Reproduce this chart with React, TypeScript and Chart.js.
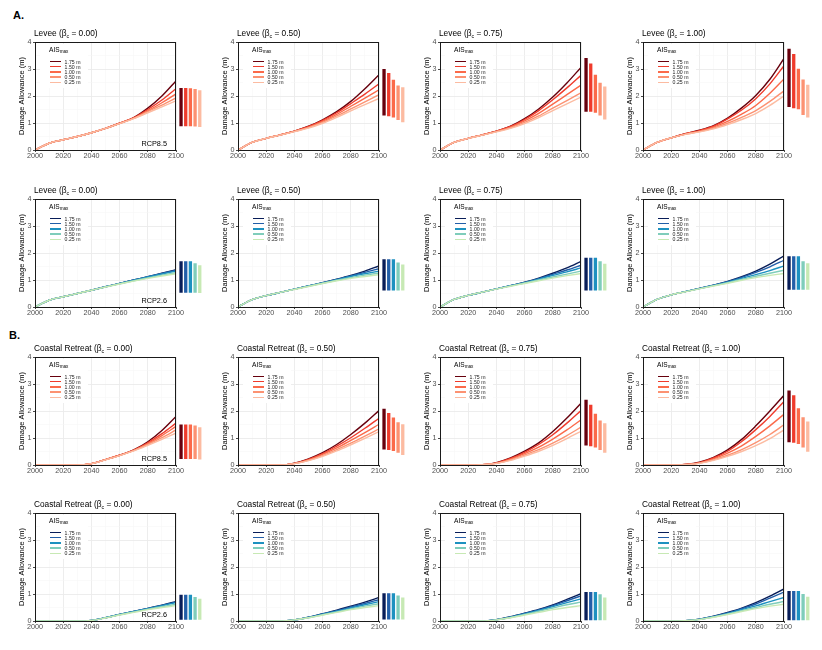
import { useEffect, useRef } from "react";
import { Chart, registerables } from "chart.js";

Chart.register(...registerables);
Chart.defaults.font.family = "'Liberation Sans', Arial, sans-serif";

const years = [2000, 2010, 2020, 2030, 2040, 2050, 2060, 2070, 2080, 2090, 2100];
const xTickLabels = [2000, 2020, 2040, 2060, 2080, 2100];
const yTickLabels = [0, 1, 2, 3, 4];
const aisLabels = ["1.75 m", "1.50 m", "1.00 m", "0.50 m", "0.25 m"];
const betaLabels = ["0.00", "0.50", "0.75", "1.00"];
const redColors = ["#67000d", "#ef3b2c", "#fb6a4a", "#fc9272", "#fcbba1"];
const blueColors = ["#081d58", "#225ea8", "#1d91c0", "#7fcdbb", "#c7e9b4"];

// Levee, RCP8.5 (one row per AIS max, 2000..2100 every 10 yr)
const leveeRcp85Beta000 = [
  [0, 0.25, 0.38, 0.5, 0.64, 0.8, 0.99, 1.2, 1.55, 2.0, 2.56],
  [0, 0.25, 0.38, 0.5, 0.64, 0.8, 0.99, 1.2, 1.5, 1.85, 2.27],
  [0, 0.25, 0.38, 0.5, 0.64, 0.8, 0.99, 1.18, 1.45, 1.75, 2.08],
  [0, 0.25, 0.38, 0.5, 0.64, 0.8, 0.98, 1.17, 1.42, 1.66, 1.93],
  [0, 0.25, 0.38, 0.5, 0.64, 0.8, 0.98, 1.16, 1.38, 1.6, 1.82],
];
const leveeRcp85Beta050 = [
  [0, 0.28, 0.43, 0.56, 0.7, 0.88, 1.12, 1.42, 1.8, 2.27, 2.79],
  [0, 0.28, 0.43, 0.56, 0.7, 0.87, 1.1, 1.38, 1.72, 2.07, 2.45],
  [0, 0.28, 0.43, 0.56, 0.69, 0.85, 1.06, 1.32, 1.62, 1.92, 2.23],
  [0, 0.28, 0.43, 0.56, 0.69, 0.83, 1.02, 1.26, 1.52, 1.78, 2.05],
  [0, 0.28, 0.43, 0.55, 0.68, 0.81, 0.99, 1.21, 1.45, 1.68, 1.91],
];
const leveeRcp85Beta075 = [
  [0, 0.28, 0.43, 0.56, 0.7, 0.88, 1.16, 1.52, 1.96, 2.48, 3.06],
  [0, 0.28, 0.43, 0.56, 0.7, 0.87, 1.13, 1.46, 1.86, 2.3, 2.77],
  [0, 0.28, 0.43, 0.56, 0.69, 0.85, 1.08, 1.36, 1.7, 2.05, 2.4],
  [0, 0.28, 0.43, 0.55, 0.68, 0.82, 1.02, 1.26, 1.55, 1.83, 2.12],
  [0, 0.28, 0.43, 0.55, 0.67, 0.8, 0.98, 1.2, 1.46, 1.71, 1.96],
];
const leveeRcp85Beta100 = [
  [0, 0.28, 0.45, 0.6, 0.73, 0.9, 1.18, 1.56, 2.02, 2.62, 3.39],
  [0, 0.28, 0.45, 0.6, 0.72, 0.88, 1.15, 1.48, 1.9, 2.45, 3.12],
  [0, 0.28, 0.45, 0.59, 0.7, 0.85, 1.06, 1.33, 1.65, 2.1, 2.63],
  [0, 0.28, 0.45, 0.58, 0.68, 0.81, 0.99, 1.21, 1.46, 1.8, 2.19],
  [0, 0.28, 0.45, 0.58, 0.67, 0.78, 0.94, 1.13, 1.35, 1.65, 2.0],
];

// Levee, RCP2.6
const leveeRcp26Beta000 = [
  [0, 0.25, 0.38, 0.5, 0.62, 0.75, 0.87, 1.0, 1.12, 1.25, 1.38],
  [0, 0.25, 0.38, 0.5, 0.62, 0.75, 0.87, 1.0, 1.12, 1.24, 1.36],
  [0, 0.25, 0.38, 0.5, 0.62, 0.75, 0.87, 0.99, 1.11, 1.22, 1.33],
  [0, 0.25, 0.38, 0.5, 0.62, 0.74, 0.86, 0.97, 1.08, 1.18, 1.27],
  [0, 0.25, 0.38, 0.5, 0.62, 0.74, 0.85, 0.96, 1.06, 1.15, 1.23],
];
const leveeRcp26Beta050 = [
  [0, 0.27, 0.42, 0.54, 0.66, 0.78, 0.9, 1.03, 1.17, 1.33, 1.52],
  [0, 0.27, 0.42, 0.54, 0.66, 0.78, 0.9, 1.02, 1.15, 1.28, 1.42],
  [0, 0.27, 0.42, 0.54, 0.66, 0.78, 0.89, 1.01, 1.13, 1.23, 1.33],
  [0, 0.27, 0.42, 0.54, 0.66, 0.77, 0.88, 0.99, 1.09, 1.18, 1.26],
  [0, 0.27, 0.42, 0.54, 0.65, 0.76, 0.87, 0.97, 1.06, 1.13, 1.2],
];
const leveeRcp26Beta075 = [
  [0, 0.28, 0.43, 0.55, 0.67, 0.79, 0.92, 1.07, 1.25, 1.45, 1.69],
  [0, 0.28, 0.43, 0.55, 0.67, 0.79, 0.91, 1.05, 1.21, 1.37, 1.55],
  [0, 0.28, 0.43, 0.55, 0.67, 0.79, 0.9, 1.03, 1.17, 1.3, 1.45],
  [0, 0.28, 0.43, 0.55, 0.67, 0.78, 0.89, 1.0, 1.11, 1.22, 1.33],
  [0, 0.28, 0.43, 0.55, 0.66, 0.77, 0.87, 0.97, 1.07, 1.16, 1.24],
];
const leveeRcp26Beta100 = [
  [0, 0.28, 0.45, 0.57, 0.69, 0.81, 0.95, 1.12, 1.33, 1.59, 1.89],
  [0, 0.28, 0.45, 0.57, 0.69, 0.81, 0.94, 1.1, 1.28, 1.49, 1.73],
  [0, 0.28, 0.45, 0.57, 0.68, 0.8, 0.92, 1.06, 1.2, 1.35, 1.52],
  [0, 0.28, 0.45, 0.57, 0.68, 0.79, 0.9, 1.02, 1.14, 1.25, 1.36],
  [0, 0.28, 0.45, 0.56, 0.67, 0.78, 0.88, 0.99, 1.09, 1.17, 1.24],
];

// Coastal retreat, RCP8.5
const retreatRcp85Beta000 = [
  [0, 0, 0, 0, 0.05, 0.2, 0.36, 0.56, 0.86, 1.28, 1.8],
  [0, 0, 0, 0, 0.05, 0.2, 0.36, 0.55, 0.82, 1.16, 1.55],
  [0, 0, 0, 0, 0.05, 0.2, 0.36, 0.54, 0.79, 1.09, 1.43],
  [0, 0, 0, 0, 0.05, 0.2, 0.35, 0.53, 0.76, 1.01, 1.3],
  [0, 0, 0, 0, 0.05, 0.19, 0.35, 0.52, 0.73, 0.95, 1.18],
];
const retreatRcp85Beta050 = [
  [0, 0, 0, 0, 0.07, 0.23, 0.46, 0.76, 1.13, 1.55, 2.02],
  [0, 0, 0, 0, 0.06, 0.21, 0.42, 0.7, 1.01, 1.36, 1.73],
  [0, 0, 0, 0, 0.06, 0.19, 0.39, 0.63, 0.91, 1.2, 1.51],
  [0, 0, 0, 0, 0.05, 0.17, 0.35, 0.57, 0.81, 1.07, 1.34],
  [0, 0, 0, 0, 0.05, 0.16, 0.32, 0.52, 0.75, 0.99, 1.24],
];
const retreatRcp85Beta075 = [
  [0, 0, 0, 0.01, 0.09, 0.26, 0.51, 0.82, 1.24, 1.74, 2.29],
  [0, 0, 0, 0.01, 0.08, 0.24, 0.47, 0.76, 1.12, 1.55, 2.02],
  [0, 0, 0, 0.01, 0.07, 0.22, 0.42, 0.66, 0.96, 1.3, 1.67],
  [0, 0, 0, 0.01, 0.06, 0.19, 0.37, 0.57, 0.81, 1.09, 1.4],
  [0, 0, 0, 0.01, 0.06, 0.17, 0.33, 0.51, 0.73, 0.98, 1.25],
];
const retreatRcp85Beta100 = [
  [0, 0, 0, 0.02, 0.1, 0.28, 0.56, 0.95, 1.45, 2.0, 2.58],
  [0, 0, 0, 0.02, 0.09, 0.26, 0.51, 0.87, 1.31, 1.8, 2.35],
  [0, 0, 0, 0.02, 0.08, 0.23, 0.44, 0.71, 1.06, 1.45, 1.88],
  [0, 0, 0, 0.01, 0.07, 0.19, 0.36, 0.57, 0.83, 1.13, 1.49],
  [0, 0, 0, 0.01, 0.06, 0.17, 0.32, 0.5, 0.72, 0.98, 1.3],
];

// Coastal retreat, RCP2.6
const retreatRcp26Beta000 = [
  [0, 0, 0, 0, 0.02, 0.12, 0.24, 0.35, 0.47, 0.59, 0.72],
  [0, 0, 0, 0, 0.02, 0.12, 0.24, 0.35, 0.47, 0.58, 0.7],
  [0, 0, 0, 0, 0.02, 0.12, 0.24, 0.35, 0.46, 0.57, 0.68],
  [0, 0, 0, 0, 0.02, 0.12, 0.23, 0.34, 0.44, 0.53, 0.62],
  [0, 0, 0, 0, 0.02, 0.11, 0.22, 0.32, 0.42, 0.5, 0.57],
];
const retreatRcp26Beta050 = [
  [0, 0, 0, 0, 0.04, 0.14, 0.27, 0.4, 0.55, 0.7, 0.87],
  [0, 0, 0, 0, 0.04, 0.14, 0.26, 0.38, 0.52, 0.65, 0.79],
  [0, 0, 0, 0, 0.04, 0.13, 0.25, 0.36, 0.48, 0.6, 0.72],
  [0, 0, 0, 0, 0.04, 0.12, 0.23, 0.34, 0.45, 0.55, 0.64],
  [0, 0, 0, 0, 0.04, 0.12, 0.22, 0.32, 0.42, 0.5, 0.57],
];
const retreatRcp26Beta075 = [
  [0, 0, 0, 0, 0.05, 0.16, 0.29, 0.43, 0.6, 0.8, 1.01],
  [0, 0, 0, 0, 0.05, 0.15, 0.28, 0.41, 0.57, 0.75, 0.93],
  [0, 0, 0, 0, 0.05, 0.14, 0.26, 0.39, 0.53, 0.68, 0.82],
  [0, 0, 0, 0, 0.04, 0.13, 0.24, 0.36, 0.48, 0.6, 0.7],
  [0, 0, 0, 0, 0.04, 0.12, 0.22, 0.32, 0.42, 0.5, 0.57],
];
const retreatRcp26Beta100 = [
  [0, 0, 0, 0.01, 0.07, 0.18, 0.32, 0.48, 0.68, 0.92, 1.19],
  [0, 0, 0, 0.01, 0.07, 0.17, 0.3, 0.46, 0.63, 0.85, 1.07],
  [0, 0, 0, 0.01, 0.06, 0.16, 0.28, 0.42, 0.56, 0.72, 0.87],
  [0, 0, 0, 0.01, 0.06, 0.15, 0.26, 0.38, 0.5, 0.62, 0.72],
  [0, 0, 0, 0.01, 0.05, 0.14, 0.24, 0.35, 0.46, 0.55, 0.62],
];

// 2100 ranges [low, high] per AIS max
const leveeRcp85Bars = [
  [[0.88, 2.3], [0.88, 2.3], [0.88, 2.29], [0.87, 2.26], [0.85, 2.21]],
  [[1.28, 3.0], [1.25, 2.85], [1.2, 2.6], [1.11, 2.39], [1.03, 2.32]],
  [[1.42, 3.41], [1.42, 3.2], [1.38, 2.79], [1.28, 2.49], [1.13, 2.35]],
  [[1.59, 3.75], [1.55, 3.56], [1.51, 3.01], [1.3, 2.61], [1.2, 2.42]],
];
const leveeRcp26Bars = [
  [[0.53, 1.69], [0.53, 1.69], [0.53, 1.69], [0.53, 1.62], [0.52, 1.55]],
  [[0.61, 1.77], [0.61, 1.77], [0.61, 1.77], [0.61, 1.65], [0.61, 1.57]],
  [[0.61, 1.82], [0.61, 1.82], [0.61, 1.82], [0.61, 1.69], [0.61, 1.6]],
  [[0.64, 1.88], [0.64, 1.88], [0.64, 1.88], [0.64, 1.69], [0.64, 1.62]],
];
const retreatRcp85Bars = [
  [[0.22, 1.5], [0.22, 1.5], [0.22, 1.5], [0.22, 1.46], [0.2, 1.4]],
  [[0.57, 2.08], [0.56, 1.93], [0.52, 1.76], [0.45, 1.58], [0.37, 1.51]],
  [[0.72, 2.42], [0.69, 2.23], [0.65, 1.9], [0.56, 1.65], [0.45, 1.55]],
  [[0.84, 2.76], [0.82, 2.58], [0.78, 2.1], [0.65, 1.77], [0.49, 1.61]],
];
const retreatRcp26Bars = [
  [[0.05, 0.97], [0.05, 0.97], [0.05, 0.97], [0.05, 0.89], [0.05, 0.82]],
  [[0.06, 1.03], [0.06, 1.03], [0.06, 1.03], [0.06, 0.94], [0.06, 0.87]],
  [[0.03, 1.07], [0.03, 1.07], [0.03, 1.07], [0.03, 0.99], [0.03, 0.87]],
  [[0.03, 1.11], [0.03, 1.11], [0.03, 1.11], [0.03, 1.0], [0.03, 0.9]],
];

const rows = [
  { strategy: "Levee", rcp: "RCP8.5", colors: redColors, bars: leveeRcp85Bars,
    series: [leveeRcp85Beta000, leveeRcp85Beta050, leveeRcp85Beta075, leveeRcp85Beta100] },
  { strategy: "Levee", rcp: "RCP2.6", colors: blueColors, bars: leveeRcp26Bars,
    series: [leveeRcp26Beta000, leveeRcp26Beta050, leveeRcp26Beta075, leveeRcp26Beta100] },
  { strategy: "Coastal Retreat", rcp: "RCP8.5", colors: redColors, bars: retreatRcp85Bars,
    series: [retreatRcp85Beta000, retreatRcp85Beta050, retreatRcp85Beta075, retreatRcp85Beta100] },
  { strategy: "Coastal Retreat", rcp: "RCP2.6", colors: blueColors, bars: retreatRcp26Bars,
    series: [retreatRcp26Beta000, retreatRcp26Beta050, retreatRcp26Beta075, retreatRcp26Beta100] },
];

// panel frame positions on the page
const frameLeft = [35, 238, 440, 643];
const frameTop = [42, 199, 357, 513];
const FRAME_W = 141;
const FRAME_H = 108;
const AXIS_W = 34;
const PAD_TOP = 8;
const AXIS_H = 14;
const CANVAS_W = 205;
const CANVAS_H = PAD_TOP + FRAME_H + AXIS_H;
const BAR_LEFT = AXIS_W + FRAME_W + 2.7;
const BAR_STRIP = 23.4;

const font = "'Liberation Sans', Arial, sans-serif";

const framePlugin = {
  id: "frame",
  afterDatasetsDraw(chart: Chart) {
    const { ctx, chartArea: a } = chart;
    ctx.save();
    ctx.strokeStyle = "#1a1a1a";
    ctx.lineWidth = 1;
    ctx.strokeRect(a.left + 0.5, a.top + 0.5, a.right - a.left - 1, a.bottom - a.top);
    ctx.restore();
  },
};

const isMajorX = (v: number) => xTickLabels.includes(v);
const isMajorY = (v: number) => yTickLabels.includes(v);

interface PanelProps {
  col: number;
  row: number;
}

const Panel = ({ col, row }: PanelProps) => {
  const lineRef = useRef<HTMLCanvasElement>(null);
  const barRef = useRef<HTMLCanvasElement>(null);
  const info = rows[row];
  const series = info.series[col];
  const bars = info.bars[col];

  useEffect(() => {
    if (!lineRef.current || !barRef.current) return;
    const lineChart = new Chart(lineRef.current, {
      type: "line",
      data: {
        datasets: series.map((vals, i) => ({
          label: aisLabels[i],
          data: years.map((yr, j) => ({ x: yr, y: vals[j] })),
          borderColor: info.colors[i],
          borderWidth: 1.4,
          pointRadius: 0,
          fill: false,
          cubicInterpolationMode: "monotone" as const,
          order: series.length - 1 - i,
        })),
      },
      options: {
        animation: false,
        responsive: false,
        events: [],
        layout: { padding: { left: 0, top: PAD_TOP, right: CANVAS_W - AXIS_W - FRAME_W, bottom: 0 } },
        plugins: { legend: { display: false }, tooltip: { enabled: false } },
        scales: {
          x: {
            type: "linear",
            min: 2000,
            max: 2100,
            afterFit: (s) => {
              s.height = AXIS_H;
            },
            border: { display: false },
            grid: {
              color: (c) => (c.tick && isMajorX(c.tick.value) ? "#ebebeb" : "#f4f4f4"),
              lineWidth: (c) => (c.tick && isMajorX(c.tick.value) ? 0.9 : 0.5),
              tickColor: (c) => (c.tick && isMajorX(c.tick.value) ? "#333333" : "rgba(0,0,0,0)"),
              tickLength: 2,
            },
            ticks: {
              stepSize: 10,
              autoSkip: false,
              maxRotation: 0,
              minRotation: 0,
              padding: 0,
              color: "#4d4d4d",
              font: { size: 7.2 },
              callback: (v) => (isMajorX(Number(v)) ? String(v) : ""),
            },
          },
          y: {
            min: 0,
            max: 4,
            afterFit: (s) => {
              s.width = AXIS_W;
            },
            border: { display: false },
            grid: {
              color: (c) => (c.tick && isMajorY(c.tick.value) ? "#ebebeb" : "#f4f4f4"),
              lineWidth: (c) => (c.tick && isMajorY(c.tick.value) ? 0.9 : 0.5),
              tickColor: (c) => (c.tick && isMajorY(c.tick.value) ? "#333333" : "rgba(0,0,0,0)"),
              tickLength: 2,
            },
            ticks: {
              stepSize: 0.5,
              autoSkip: false,
              padding: 1.5,
              color: "#4d4d4d",
              font: { size: 7.2 },
              callback: (v) => (isMajorY(Number(v)) ? String(v) : ""),
            },
            title: {
              display: true,
              text: "Damage Allowance (m)",
              color: "#000000",
              font: { size: 7.5 },
              padding: { top: 16.7, bottom: 0 },
            },
          },
        },
      },
      plugins: [framePlugin],
    });

    const barChart = new Chart(barRef.current, {
      type: "bar",
      data: {
        labels: aisLabels,
        datasets: [
          {
            data: bars as unknown as number[],
            backgroundColor: info.colors,
            borderWidth: 0,
            barPercentage: 0.71,
            categoryPercentage: 1,
          },
        ],
      },
      options: {
        animation: false,
        responsive: false,
        events: [],
        layout: {
          padding: {
            left: BAR_LEFT,
            right: CANVAS_W - BAR_LEFT - BAR_STRIP,
            top: PAD_TOP,
            bottom: AXIS_H,
          },
        },
        plugins: { legend: { display: false }, tooltip: { enabled: false } },
        scales: {
          x: { display: false },
          y: { display: false, min: 0, max: 4 },
        },
      },
    });

    return () => {
      lineChart.destroy();
      barChart.destroy();
    };
  }, []);

  const left = frameLeft[col] - AXIS_W;
  const top = frameTop[row] - PAD_TOP;

  return (
    <div style={{ position: "absolute", left, top, width: CANVAS_W, height: CANVAS_H }}>
      <canvas ref={lineRef} width={CANVAS_W} height={CANVAS_H} style={{ position: "absolute", left: 0, top: 0 }} />
      <canvas ref={barRef} width={CANVAS_W} height={CANVAS_H} style={{ position: "absolute", left: 0, top: 0 }} />
      <div
        style={{
          position: "absolute",
          left: AXIS_W - 1,
          top: PAD_TOP - 8.7 - 5,
          fontSize: 8.3,
          lineHeight: "10px",
          whiteSpace: "nowrap",
          color: "#000",
        }}
      >
        {info.strategy} (β
        <sub style={{ fontSize: "65%", verticalAlign: "-0.35em", lineHeight: 0 }}>c</sub> = {betaLabels[col]})
      </div>
      <div
        style={{
          position: "absolute",
          left: AXIS_W + 5,
          top: PAD_TOP + 1.5,
          width: 48,
          height: 44,
          background: "#ffffff",
        }}
      >
        <div
          style={{
            position: "absolute",
            left: 9,
            top: 6.2 - 4,
            fontSize: 6.6,
            lineHeight: "8px",
            whiteSpace: "nowrap",
            color: "#000",
          }}
        >
          AIS<sub style={{ fontSize: "70%", verticalAlign: "-0.3em", lineHeight: 0 }}>max</sub>
        </div>
        {aisLabels.map((lab, i) => (
          <div key={lab}>
            <div
              style={{
                position: "absolute",
                left: 9.5,
                top: 18 + 5.2 * i - 0.8,
                width: 11,
                height: 1.6,
                background: info.colors[i],
              }}
            />
            <div
              style={{
                position: "absolute",
                left: 24.6,
                top: 18 + 5.2 * i - 3,
                fontSize: 5.2,
                lineHeight: "6px",
                whiteSpace: "nowrap",
                color: "#1a1a1a",
              }}
            >
              {lab}
            </div>
          </div>
        ))}
      </div>
      {col === 0 && (
        <div
          style={{
            position: "absolute",
            right: CANVAS_W - (AXIS_W + FRAME_W - 9),
            top: PAD_TOP + FRAME_H - 7 - 4.5,
            fontSize: 7.3,
            lineHeight: "9px",
            whiteSpace: "nowrap",
            color: "#000",
          }}
        >
          {info.rcp}
        </div>
      )}
    </div>
  );
};

const App = () => {
  return (
    <div
      style={{
        position: "absolute",
        left: 0,
        top: 0,
        width: 822,
        height: 650,
        background: "#ffffff",
        fontFamily: font,
      }}
    >
      <div style={{ position: "absolute", left: 13, top: 8.5, fontSize: 11, fontWeight: "bold", lineHeight: "12px" }}>A.</div>
      <div style={{ position: "absolute", left: 9, top: 329, fontSize: 11, fontWeight: "bold", lineHeight: "12px" }}>B.</div>
      {rows.map((_, r) =>
        betaLabels.map((_b, c) => <Panel key={`${r}-${c}`} row={r} col={c} />)
      )}
    </div>
  );
};

export default App;
